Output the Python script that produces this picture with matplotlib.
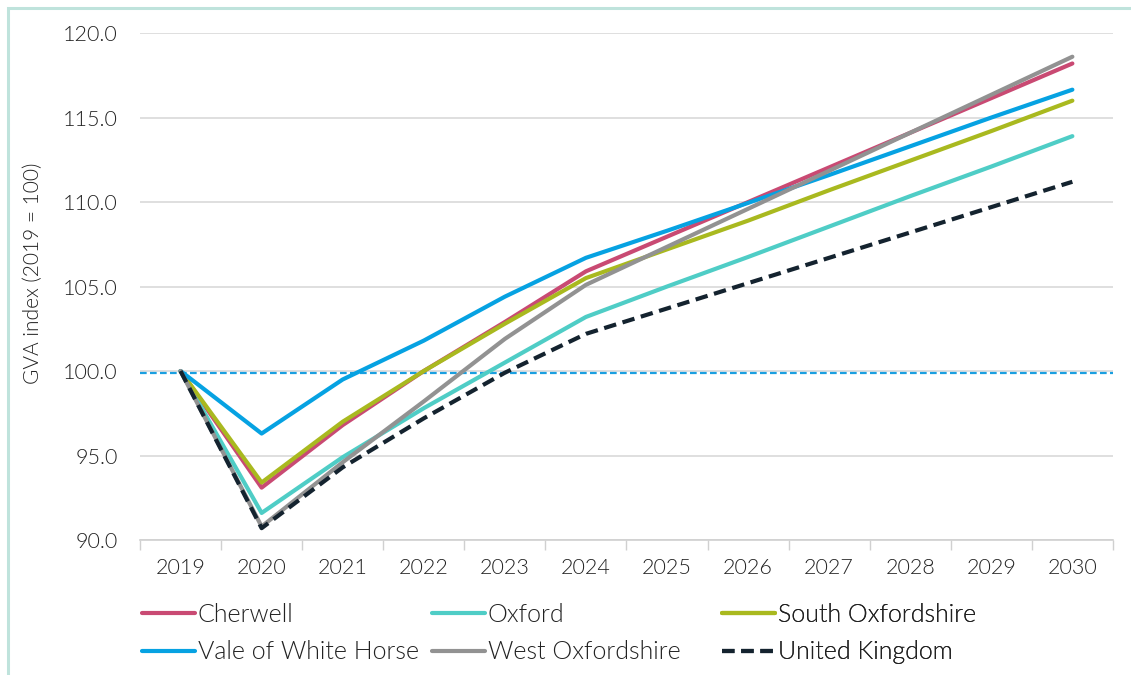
import numpy as np
import matplotlib.pyplot as plt
from matplotlib.patches import Rectangle

plt.rcParams['font.family'] = ['Lato', 'DejaVu Sans']
plt.rcParams['font.weight'] = 300
plt.rcParams['axes.labelweight'] = 300

years = ['2019', '2020', '2021', '2022', '2023', '2024',
         '2025', '2026', '2027', '2028', '2029', '2030']

cherwell = [100.0, 93.1, 96.8, 100.0, 102.9, 105.9, 107.95, 110.0, 112.05, 114.1, 116.15, 118.2]
oxford = [100.0, 91.6, 94.9, 97.8, 100.5, 103.2, 105.0, 106.75, 108.55, 110.35, 112.1, 113.9]
south_oxon = [100.0, 93.4, 97.0, 100.0, 102.8, 105.5, 107.2, 108.9, 110.7, 112.45, 114.2, 116.0]
vale = [100.0, 96.3, 99.5, 101.8, 104.4, 106.7, 108.3, 109.95, 111.6, 113.3, 115.0, 116.65]
west_oxon = [100.0, 90.8, 94.6, 98.2, 101.9, 105.1, 107.35, 109.6, 111.85, 114.1, 116.35, 118.6]
uk = [100.0, 90.7, 94.3, 97.2, 99.9, 102.2, 103.7, 105.2, 106.7, 108.2, 109.7, 111.2]
baseline = 99.9

x = np.arange(len(years))
txt = '#222222'

fig = plt.figure(figsize=(11.31, 6.75), dpi=100)
ax = fig.add_axes([0.1238, 0.2, 0.8602, 0.751])

# mint frame around the whole picture
fig.patches.append(Rectangle((8 / 1131, -0.1), 1.2, 1 - 8 / 675 + 0.1,
                             transform=fig.transFigure, fill=False,
                             edgecolor='#bfe3dc', linewidth=2.2))

ax.axhline(baseline, color='#1a9fe0', linewidth=1.6, dashes=(3, 1.5), zorder=2)

series = [
    ('Cherwell', cherwell, '#c94a73', None),
    ('Oxford', oxford, '#4fcdc6', None),
    ('South Oxfordshire', south_oxon, '#a9b91f', None),
    ('Vale of White Horse', vale, '#06a2e2', None),
    ('West Oxfordshire', west_oxon, '#929292', None),
    ('United Kingdom', uk, '#14232f', (3, 1.6)),
]
handles = {}
for name, vals, col, dash in series:
    kw = {'dashes': dash} if dash else {}
    ln, = ax.plot(x, vals, color=col, linewidth=3.0, label=name,
                  solid_capstyle='round', zorder=3, **kw)
    handles[name] = ln

ax.set_ylim(90, 120)
ax.set_yticks(np.arange(90, 121, 5))
ax.set_yticklabels([f'{v:.1f}' for v in np.arange(90, 121, 5)])
ax.set_xlim(-0.5, len(years) - 0.5)
ax.set_xticks(x)
ax.set_xticklabels(years)
ax.set_xticks(np.arange(-0.5, len(years)), minor=True)
ax.tick_params(axis='x', which='major', length=0, pad=13, labelsize=15.5, colors=txt)
ax.tick_params(axis='x', which='minor', length=7, width=1, color='#d0d0d0')
ax.tick_params(axis='y', length=0, pad=16, labelsize=15.5, colors=txt)
ax.grid(axis='y', color='#d9d9d9', linewidth=1.2)
ax.set_axisbelow(True)
for s in ['top', 'right', 'left']:
    ax.spines[s].set_visible(False)
ax.spines['bottom'].set_color('#d0d0d0')
ax.spines['bottom'].set_linewidth(1.2)

ax.set_ylabel('GVA index (2019 = 100)', fontsize=15, color=txt)
ax.yaxis.set_label_coords(-0.1, 0.527)

# legend as three fixed-width columns
columns = [['Cherwell', 'Vale of White Horse'],
           ['Oxford', 'West Oxfordshire'],
           ['South Oxfordshire', 'United Kingdom']]
col_x = [0.002, 0.300, 0.598]
for names, cx in zip(columns, col_x):
    leg = ax.legend([handles[n] for n in names], names, frameon=False,
                    loc='upper left', bbox_to_anchor=(cx, -0.124),
                    borderaxespad=0, borderpad=0,
                    fontsize=18, handlelength=2.12, handletextpad=0.12,
                    labelspacing=0.54, labelcolor=txt)
    ax.add_artist(leg)

fig.savefig('out.png', dpi=100)
